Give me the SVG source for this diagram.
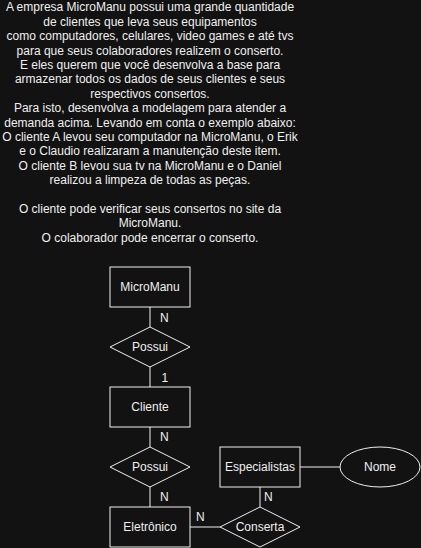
<svg xmlns="http://www.w3.org/2000/svg" width="421" height="548" viewBox="0 0 421 548">
<style>
text{font-family:"Liberation Sans",Arial,sans-serif;font-size:12px;fill:#f0f0f0}
.c{text-anchor:middle}
.s{fill:none;stroke:#f0f0f0;stroke-width:1}
.n{fill:#121212;stroke:#f0f0f0;stroke-width:1}
</style>
<rect width="421" height="548" fill="#121212"/>
<g id="description">
<text class="c" x="150" y="11.3">A empresa MicroManu possui uma grande quantidade</text>
<text class="c" x="150" y="25.7">de clientes que leva seus equipamentos</text>
<text class="c" x="150" y="40.1">como computadores, celulares, video games e até tvs</text>
<text class="c" x="150" y="54.5">para que seus colaboradores realizem o conserto.</text>
<text class="c" x="150" y="68.9">E eles querem que você desenvolva a base para</text>
<text class="c" x="150" y="83.3">armazenar todos os dados de seus clientes e seus</text>
<text class="c" x="150" y="97.7">respectivos consertos.</text>
<text class="c" x="150" y="112.1">Para isto, desenvolva a modelagem para atender a</text>
<text class="c" x="150" y="126.5">demanda acima. Levando em conta o exemplo abaixo:</text>
<text class="c" x="150" y="140.9">O cliente A levou seu computador na MicroManu, o Erik</text>
<text class="c" x="150" y="155.3">e o Claudio realizaram a manutenção deste item.</text>
<text class="c" x="150" y="169.7">O cliente B levou sua tv na MicroManu e o Daniel</text>
<text class="c" x="150" y="184.1">realizou a limpeza de todas as peças.</text>
<text class="c" x="150" y="212.9">O cliente pode verificar seus consertos no site da</text>
<text class="c" x="150" y="227.3">MicroManu.</text>
<text class="c" x="150" y="241.7">O colaborador pode encerrar o conserto.</text>
</g>
<g id="connectors">
<path class="s" d="M150 307V327M150 367V387M150 427V447M150 487V507M190 527H220M260 487V507M300 467H340"/>
<text x="160" y="321.5">N</text>
<text x="161.5" y="381.5">1</text>
<text x="160" y="441">N</text>
<text x="160" y="501">N</text>
<text x="196" y="521">N</text>
<text x="264" y="501">N</text>
</g>
<g id="micromanu"><rect class="n" x="110" y="267" width="80" height="40"/><text class="c" x="150" y="291.3">MicroManu</text></g>
<g id="possui1"><path class="n" d="M150 327L190 347L150 367L110 347Z"/><text class="c" x="150" y="351.3">Possui</text></g>
<g id="cliente"><rect class="n" x="110" y="387" width="80" height="40"/><text class="c" x="150" y="411.3">Cliente</text></g>
<g id="possui2"><path class="n" d="M150 447L190 467L150 487L110 467Z"/><text class="c" x="150" y="471.3">Possui</text></g>
<g id="eletronico"><rect class="n" x="110" y="507" width="80" height="40"/><text class="c" x="150" y="531.3">Eletrônico</text></g>
<g id="especialistas"><rect class="n" x="220" y="447" width="80" height="40"/><text class="c" x="260" y="471.3">Especialistas</text></g>
<g id="nome"><ellipse class="n" cx="380" cy="467" rx="40" ry="20"/><text class="c" x="380" y="471.3">Nome</text></g>
<g id="conserta"><path class="n" d="M260 507L300 527L260 547L220 527Z"/><text class="c" x="260" y="531.3">Conserta</text></g>
</svg>
